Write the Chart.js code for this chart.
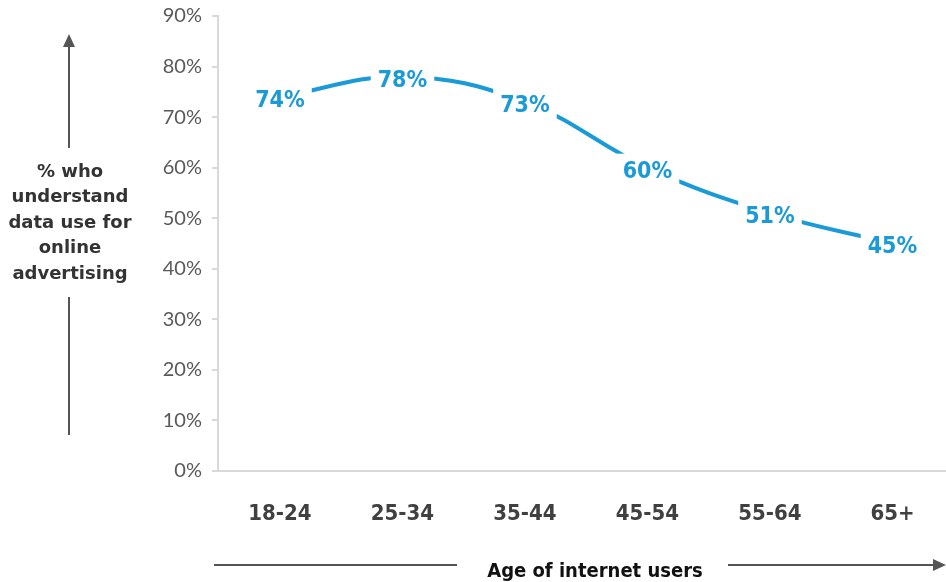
<!DOCTYPE html>
<html>
<head>
<meta charset="utf-8">
<script src="https://cdn.jsdelivr.net/npm/chart.js@4.4.1/dist/chart.umd.min.js"></script>
<style>
  html, body { margin: 0; padding: 0; background: #fff; }
  #wrap { width: 946px; height: 582px; }
</style>
</head>
<body>
<div id="wrap"><canvas id="chartAge" width="946" height="582"></canvas></div>
<script>
const ageGroups = ['18-24', '25-34', '35-44', '45-54', '55-64', '65+'];
const pctUnderstand = [74, 78, 73, 60, 51, 45];
const yTitleLines = ['% who', 'understand', 'data use for', 'online', 'advertising'];
const xTitle = 'Age of internet users';

const blue = '#1a9ad6';
const axisGrey = '#d9d9d9';
const arrowGrey = '#555555';

// label boxes on top of the line (white box cuts the line)
const valueLabels = {
  id: 'valueLabels',
  afterDatasetsDraw(chart) {
    const ctx = chart.ctx;
    const meta = chart.getDatasetMeta(0);
    ctx.save();
    ctx.font = 'bold 23px "DejaVu Sans Condensed"';
    ctx.textAlign = 'center';
    ctx.textBaseline = 'middle';
    meta.data.forEach(function(pt, i) {
      const txt = pctUnderstand[i] + '%';
      const w = ctx.measureText(txt).width + 14;
      ctx.fillStyle = '#fff';
      ctx.fillRect(pt.x - w / 2, pt.y - 14, w, 33);
      ctx.fillStyle = blue;
      ctx.fillText(txt, pt.x, pt.y + 4);
    });
    ctx.restore();
  }
};

// axis titles with arrows
const axisTitles = {
  id: 'axisTitles',
  afterDraw(chart) {
    const ctx = chart.ctx;
    ctx.save();
    ctx.strokeStyle = arrowGrey;
    ctx.fillStyle = arrowGrey;
    ctx.lineWidth = 2;

    // vertical arrow
    const ax = 69;
    ctx.beginPath();
    ctx.moveTo(ax, 435); ctx.lineTo(ax, 297);
    ctx.moveTo(ax, 148); ctx.lineTo(ax, 44);
    ctx.stroke();
    ctx.beginPath();
    ctx.moveTo(ax, 34); ctx.lineTo(ax - 6, 47); ctx.lineTo(ax + 6, 47);
    ctx.closePath(); ctx.fill();

    // horizontal arrow
    const ay = 565;
    ctx.beginPath();
    ctx.moveTo(214, ay); ctx.lineTo(457, ay);
    ctx.moveTo(728, ay); ctx.lineTo(936, ay);
    ctx.stroke();
    ctx.beginPath();
    ctx.moveTo(946, ay); ctx.lineTo(933, ay - 6); ctx.lineTo(933, ay + 6);
    ctx.closePath(); ctx.fill();

    ctx.fillStyle = '#333';
    ctx.textAlign = 'center';
    ctx.textBaseline = 'middle';
    ctx.font = 'bold 18px "DejaVu Sans"';
    yTitleLines.forEach(function(line, i) {
      ctx.fillText(line, 70, 172 + i * 25.5);
    });

    ctx.fillStyle = '#111';
    ctx.font = 'bold 20px "DejaVu Sans Condensed"';
    ctx.fillText(xTitle, 595, 572);
    ctx.restore();
  }
};

new Chart(document.getElementById('chartAge').getContext('2d'), {
  type: 'line',
  data: {
    datasets: [{
      label: '% who understand data use for online advertising',
      data: pctUnderstand.map(function(v, i) { return { x: i, y: v }; }),
      borderColor: blue,
      borderWidth: 4,
      tension: 0.4,
      pointRadius: 0,
      fill: false
    }]
  },
  options: {
    responsive: false,
    animation: false,
    layout: { padding: { top: 16, right: 0, left: 0, bottom: 0 } },
    plugins: { legend: { display: false }, tooltip: { enabled: false } },
    scales: {
      x: {
        type: 'linear',
        min: -0.506,
        max: 5.437,
        afterBuildTicks: function(scale) {
          scale.ticks = ageGroups.map(function(_, i) { return { value: i }; });
        },
        afterFit: function(scale) {
          scale.height = 111;
          scale.paddingLeft = 0;
          scale.paddingRight = 0;
        },
        grid: { display: false },
        border: { color: axisGrey, width: 2 },
        ticks: {
          padding: 22,
          color: '#404040',
          font: { family: 'DejaVu Sans Condensed', size: 22, weight: 'bold' },
          maxRotation: 0,
          autoSkip: false,
          callback: function(v) { return ageGroups[v]; }
        }
      },
      y: {
        min: 0,
        max: 90,
        afterFit: function(scale) {
          scale.width = 218;
          scale.paddingTop = 0;
          scale.paddingBottom = 0;
        },
        grid: { drawOnChartArea: false, drawTicks: true, tickLength: 6, color: axisGrey, lineWidth: 2 },
        border: { color: axisGrey, width: 2 },
        ticks: {
          stepSize: 10,
          padding: 10,
          color: '#595959',
          font: { family: 'Lato', size: 20 },
          callback: function(v) { return v + '%'; }
        }
      }
    }
  },
  plugins: [valueLabels, axisTitles]
});
</script>
</body>
</html>
